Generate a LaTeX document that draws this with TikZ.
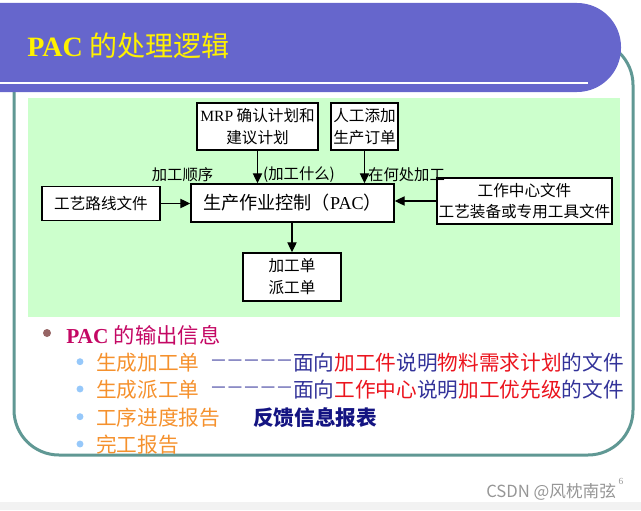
\documentclass[tikz,border=0pt]{standalone}
\usepackage{fontspec}
\setmainfont{Liberation Serif}
\newfontfamily\cjk{Noto Sans CJK SC}
\newfontfamily\dashfont{DejaVu Sans}
\usetikzlibrary{arrows.meta}
\definecolor{barcol}{RGB}{102,102,204}
\definecolor{framecol}{RGB}{96,152,148}
\definecolor{greencol}{RGB}{204,255,204}
\definecolor{stripcol}{RGB}{242,242,242}
\definecolor{headcol}{RGB}{196,8,100}
\definecolor{browndot}{RGB}{150,100,100}
\definecolor{bluedot}{RGB}{150,200,250}
\definecolor{orangetxt}{RGB}{245,145,45}
\definecolor{bluetxt}{RGB}{51,51,153}
\definecolor{redtxt}{RGB}{235,20,30}
\definecolor{navytxt}{RGB}{20,20,130}
\definecolor{wmcol}{RGB}{150,150,150}
\begin{document}
\begin{tikzpicture}[x=0.75pt,y=-0.75pt,
  box/.style={draw=black,line width=1.1pt,fill=white,inner sep=0pt,align=center,
    font=\cjk\fontsize{11.7}{16.3}\selectfont},
  lbl/.style={inner sep=0pt,font=\cjk\fontsize{11.5}{14}\selectfont},
  arr/.style={line width=0.9pt,-{Triangle[length=7.5pt,width=7pt]}},
  item/.style={inner sep=0pt,anchor=west,font=\cjk\fontsize{15.5}{18}\selectfont},
  dashes/.style={inner sep=0pt,anchor=west,text=bluetxt,font=\dashfont\fontsize{10.8}{12}\selectfont},
  bdot/.style={fill=bluedot}]
\useasboundingbox (0,0) rectangle (641,510);
\clip (0,0) rectangle (641,510);
% background strip
\fill[stripcol] (0,502) rectangle (641,510);
% frame
\draw[framecol,line width=2.25pt,rounded corners=33.75pt] (14,40) rectangle (633,455);
% title bar
\fill[barcol,rounded corners=33pt] (-60,3) rectangle (621,92);
\fill[white] (0,81.5) rectangle (588,83.5);
\node[anchor=west,inner sep=0pt,text=yellow,font=\fontsize{21}{25}\selectfont] (title) at (27,46)
  {\textbf{PAC} {\cjk 的处理逻辑}};
% green panel
\fill[greencol] (28,98) rectangle (620,317);
% boxes
\node[box,minimum width=90.75pt,minimum height=35.25pt] (mrp) at (257.5,126.5)
  {{\rmfamily MRP} 确认计划和\\建议计划};
\node[box,minimum width=50.25pt,minimum height=35.25pt] (man) at (364.5,126.5)
  {人工添加\\生产订单};
\node[box,minimum width=152.25pt,minimum height=28.5pt,font=\cjk\fontsize{13.6}{16}\selectfont] (pac) at (292.5,203)
  {生产作业控制（{\rmfamily PAC}）};
\node[box,minimum width=88.5pt,minimum height=25.5pt] (route) at (101,203.5)
  {工艺路线文件};
\node[box,minimum width=131.25pt,minimum height=34.5pt] (wc) at (524.5,201)
  {工作中心文件\\工艺装备或专用工具文件};
\node[box,minimum width=73.5pt,minimum height=36pt] (out) at (292,277)
  {加工单\\派工单};
% labels
\node[lbl] (l1) at (182.5,175) {加工顺序};
\node[lbl] (l2) at (299,175) {(加工什么)};
\node[lbl] (l3) at (406.5,175) {在何处加工};
% arrows
\draw[arr] (mrp.south) -- (mrp.south |- pac.north);
\draw[arr] (man.south) -- (man.south |- pac.north);
\draw[arr] (route.east) -- (route.east -| pac.west);
\draw[arr] (wc.west) -- (wc.west -| pac.east);
\draw[arr] (pac.south -| out.north) -- (out.north);
% output list
\fill[browndot] (47,333) circle[radius=3pt];
\node[inner sep=0pt,anchor=west,text=headcol,font=\fontsize{16}{19}\selectfont] (head) at (66,335)
  {\textbf{PAC} {\cjk 的输出信息}};
\fill[bdot] (80,361.7) circle[radius=2.6pt];
\fill[bdot] (80,389) circle[radius=2.6pt];
\fill[bdot] (80,416.7) circle[radius=2.6pt];
\fill[bdot] (80,444) circle[radius=2.6pt];
\node[item,text=orangetxt] (i1) at (96,363) {生成加工单};
\node[item,text=orangetxt] (i2) at (96,390) {生成派工单};
\node[item,text=orangetxt] (i3) at (96,417.5) {工序进度报告};
\node[item,text=orangetxt] (i4) at (96,445) {完工报告};
\node[dashes] (d1) at (211,362) {—\kern1.6pt—\kern1.6pt—\kern1.6pt—\kern1.6pt—};
\node[dashes] (d2) at (211,389) {—\kern1.6pt—\kern1.6pt—\kern1.6pt—\kern1.6pt—};
\node[item,text=bluetxt] (t1) at (293,363)
  {面向{\color{redtxt}加工件}说明{\color{redtxt}物料需求计划}的文件};
\node[item,text=bluetxt] (t2) at (293,390)
  {面向{\color{redtxt}工作中心}说明{\color{redtxt}加工优先级}的文件};
\node[item,text=navytxt] (t3) at (253,417.5) {\bfseries 反馈信息报表};
% watermark
\node[inner sep=0pt,anchor=west,text=wmcol,font=\cjk\fontsize{12.5}{14}\selectfont] (wm) at (486,492) {CSDN @风枕南弦};
\node[inner sep=0pt,text=wmcol,font=\fontsize{7}{8}\selectfont] (pg) at (621,481) {6};
\end{tikzpicture}
\end{document}
